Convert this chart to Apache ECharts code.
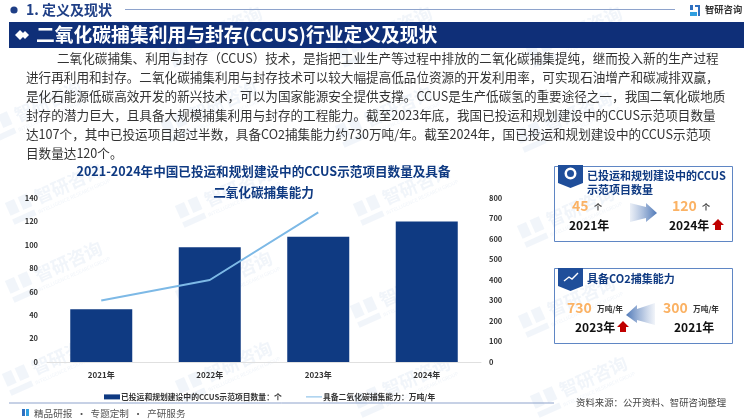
<!DOCTYPE html>
<html>
<head>
<meta charset="utf-8">
<style>html,body{margin:0;padding:0;background:#fff}#main{width:750px;height:420px}</style>
<script src="https://cdn.jsdelivr.net/npm/echarts@6/dist/echarts.min.js"></script>
</head>
<body>
<div id="main"></div>
<script>
var years = ['2021年', '2022年', '2023年', '2024年'];
var projectCount = [45, 98, 107, 120];
var captureCapacity = [300, 400, 730, null];
var seriesNames = ['已投运和规划建设中的CCUS示范项目数量：个', '具备二氧化碳捕集能力：万吨/年'];
var paragraph = [
	'二氧化碳捕集、利用与封存（CCUS）技术，是指把工业生产等过程中排放的二氧化碳捕集提纯，继而投入新的生产过程',
	'进行再利用和封存。二氧化碳捕集利用与封存技术可以较大幅提高低品位资源的开发利用率，可实现石油增产和碳减排双赢，',
	'是化石能源低碳高效开发的新兴技术，可以为国家能源安全提供支撑。CCUS是生产低碳氢的重要途径之一，我国二氧化碳地质',
	'封存的潜力巨大，且具备大规模捕集利用与封存的工程能力。截至2023年底，我国已投运和规划建设中的CCUS示范项目数量',
	'达107个，其中已投运项目超过半数，具备CO2捕集能力约730万吨/年。截至2024年，国已投运和规划建设中的CCUS示范项',
	'目数量达120个。'
];

var FONT = '"Noto Sans CJK SC"';
var NAVY = '#0f3a82';
var ORANGE = '#fbb264';
var RED = '#c00000';
var CARD = '#5f86c4';

function txt(text, x, y, size, color, weight, align) {
	return {
		type: 'text', z: 10,
		style: {
			text: text, x: x, y: y, fill: color,
			font: (weight || 'normal') + ' ' + size + 'px ' + FONT,
			align: align || 'left', verticalAlign: 'middle'
		}
	};
}
function rect(x, y, w, h, fill, stroke) {
	return {
		type: 'rect', z: 5,
		shape: {x: x, y: y, width: w, height: h},
		style: {fill: fill, stroke: stroke || null, lineWidth: stroke ? 1 : 0}
	};
}
function poly(points, fill) {
	return {type: 'polygon', z: 6, shape: {points: points}, style: {fill: fill}};
}
function hline(x1, x2, y, color, w) {
	return {type: 'line', z: 5, shape: {x1: x1, y1: y, x2: x2, y2: y}, style: {stroke: color, lineWidth: w || 1}};
}
function upArrow(cx, top) {
	return poly([[cx, top], [cx + 6, top + 6], [cx + 3, top + 6], [cx + 3, top + 11], [cx - 3, top + 11], [cx - 3, top + 6], [cx - 6, top + 6]], RED);
}
function ribbon(x, y) {
	return poly([[x, y], [x + 25, y], [x + 25, y + 18], [x + 12.5, y + 23], [x, y + 18]], '#1f4e9a');
}

var g = [];

// 水印
var WM_COLOR = 'rgba(200,215,235,0.25)';
var wm = [
	[230, 30], [400, 30], [590, 30],
	[50, 105], [225, 105], [400, 110], [580, 115],
	[70, 187], [240, 190], [418, 188], [582, 210],
	[70, 265], [240, 275], [415, 290], [583, 300],
	[67, 358], [240, 365], [418, 380], [595, 380]
];
wm.forEach(function (p) {
	g.push({
		type: 'group', z: 0, x: p[0], y: p[1], rotation: 0.42,
		children: [
			{type: 'text', style: {text: '智研咨询', x: 0, y: -4, fill: WM_COLOR, font: 'bold 18px ' + FONT, align: 'center', verticalAlign: 'middle'}},
			{type: 'text', style: {text: 'INTELLIGENCE RESEARCH GROUP', x: 0, y: 10, fill: WM_COLOR, font: '5px ' + FONT, align: 'center', verticalAlign: 'middle'}},
			{type: 'rect', shape: {x: -66, y: -12, width: 10, height: 14}, style: {fill: WM_COLOR}},
			{type: 'rect', shape: {x: -66, y: 6, width: 24, height: 6}, style: {fill: WM_COLOR}},
			{type: 'rect', shape: {x: -52, y: -12, width: 10, height: 14}, style: {fill: WM_COLOR}}
		]
	});
});

// 头部
g.push({type: 'circle', z: 5, shape: {cx: 14, cy: 10, r: 3.6}, style: {fill: '#1f3f86'}});
g.push(txt('1. 定义及现状', 26, 10, 14, '#1f3f86', 'bold'));
g.push(hline(125, 675, 9.5, '#8ea3cc', 1));
g.push(rect(690, 5, 3, 5, '#2f6fc0'), rect(690, 12, 7, 4, '#2f9fe0'), rect(695, 5, 5, 2, '#2f6fc0'), rect(698, 7, 2, 9, '#2f6fc0'));
g.push(txt('智研咨询', 705, 9, 9.3, '#333', 'bold', 'left'));
g.push(rect(9, 22, 735, 26, '#0f2f78'));
g.push(poly([[15, 35], [20, 30], [25, 35], [20, 40]], '#fff'), poly([[21, 35], [25, 31], [29, 35], [25, 39]], '#fff'));
g.push(txt('二氧化碳捕集利用与封存(CCUS)行业定义及现状', 36, 35, 18.8, '#fff', 'bold'));

// 正文
paragraph.forEach(function (line, i) {
	g.push(txt(line, i === 0 ? 57 : 26, 58 + i * 19, 12.6, '#333'));
});

// 图标题
g.push(txt('2021-2024年中国已投运和规划建设中的CCUS示范项目数量及具备', 263.5, 171, 12.6, NAVY, 'bold', 'center'));
g.push(txt('二氧化碳捕集能力', 263.5, 192, 12.6, NAVY, 'bold', 'center'));

// 卡片一
g.push(rect(554.5, 166.5, 178, 75, 'transparent', CARD));
g.push(ribbon(558, 165));
g.push({type: 'ring', z: 7, shape: {cx: 570.5, cy: 173.5, r: 6, r0: 3.5}, style: {fill: '#fff'}});
g.push(txt('已投运和规划建设中的CCUS', 587, 176, 11, NAVY, 'bold'));
g.push(txt('示范项目数量', 587, 190, 11, NAVY, 'bold'));
g.push(txt('45', 572, 206, 14, ORANGE, 'bold'));
g.push(txt('个', 594, 207, 8, '#333', 'bold'));
g.push(txt('120', 672, 206, 14, ORANGE, 'bold'));
g.push(txt('个', 702, 207, 8, '#333', 'bold'));
g.push(txt('2021年', 569, 225, 12, '#111', 'bold'));
g.push(txt('2024年', 669, 225, 12, '#111', 'bold'));
g.push(upArrow(718, 219));
g.push(poly([[630, 203], [646, 207], [646, 203], [657, 213], [646, 222], [646, 218], [630, 222]], {
	type: 'linear', x: 0, y: 0, x2: 1, y2: 0,
	colorStops: [{offset: 0, color: 'rgba(120,150,200,0.15)'}, {offset: 1, color: '#4f79b8'}]
}));

// 卡片二
g.push(rect(554.5, 268.5, 178, 75, 'transparent', CARD));
g.push(ribbon(558, 268));
g.push(txt('具备CO2捕集能力', 587, 279, 11, NAVY, 'bold'));
g.push({type: 'polyline', z: 7, shape: {points: [[564, 281], [569, 277], [572, 279], [578, 273]]}, style: {stroke: '#fff', lineWidth: 1.4, fill: null}});
g.push(txt('730', 567, 308, 14, ORANGE, 'bold'));
g.push(txt('万吨/年', 597, 309, 7.7, '#333', 'bold'));
g.push(txt('300', 663, 308, 14, ORANGE, 'bold'));
g.push(txt('万吨/年', 693, 309, 7.7, '#333', 'bold'));
g.push(txt('2023年', 575, 327, 12, '#111', 'bold'));
g.push(txt('2021年', 674, 327, 12, '#111', 'bold'));
g.push(upArrow(623, 321));
g.push(poly([[655, 303], [637, 309], [637, 305], [626, 315], [637, 323], [637, 320], [655, 325]], {
	type: 'linear', x: 0, y: 0, x2: 1, y2: 0,
	colorStops: [{offset: 0, color: '#4f79b8'}, {offset: 1, color: 'rgba(120,150,200,0.1)'}]
}));

// 底部
g.push(hline(9, 554, 403, '#8ea3cc', 1));
g.push(rect(22, 409, 3, 7, '#2f6fc0'), rect(26, 409, 3, 7, '#2f9fe0'));
g.push(txt('精品研报  ·  专题定制  ·  产研服务', 34, 413, 9.6, '#555'));
g.push(txt('资料来源：公开资料、智研咨询整理', 576, 402, 9.4, '#444'));

var legendText = {fontSize: 7.8, fontWeight: 'bold', color: '#333', fontFamily: FONT, padding: [0, 0, 0, -4]};

var chart = echarts.init(document.getElementById('main'), null, {renderer: 'canvas'});
chart.setOption({
	animation: false,
	textStyle: {fontFamily: FONT},
	grid: {left: 47, right: 269, top: 198, height: 164},
	legend: [
		{left: 99, top: 388, itemWidth: 16, itemHeight: 5, textStyle: legendText,
			data: [{name: seriesNames[0], icon: 'rect'}]},
		{left: 301, top: 388, itemWidth: 16, itemHeight: 5, textStyle: legendText,
			data: [{name: seriesNames[1], icon: 'path://M0 2h16v1H0z', itemStyle: {color: '#7db9e6'}}]}
	],
	xAxis: {
		type: 'category', data: years,
		axisLine: {lineStyle: {color: '#e0e0e0'}}, axisTick: {show: false},
		axisLabel: {fontSize: 8, fontWeight: 'bold', color: '#333', margin: 9}
	},
	yAxis: [
		{type: 'value', min: 0, max: 140, interval: 20, splitLine: {show: false},
			axisLabel: {fontSize: 7.5, fontWeight: 'bold', color: '#333', margin: 9}},
		{type: 'value', min: 0, max: 800, interval: 100, splitLine: {show: false},
			axisLabel: {fontSize: 7.5, fontWeight: 'bold', color: '#333', margin: 8}}
	],
	series: [
		{name: seriesNames[0], type: 'bar', data: projectCount, barWidth: 62, itemStyle: {color: '#0f3a82'}},
		{name: seriesNames[1], type: 'line', yAxisIndex: 1, data: captureCapacity, showSymbol: false, symbol: 'none',
			lineStyle: {color: '#7db9e6', width: 2}, itemStyle: {color: '#7db9e6'}, z: 5}
	],
	graphic: g
});
</script>
</body>
</html>
